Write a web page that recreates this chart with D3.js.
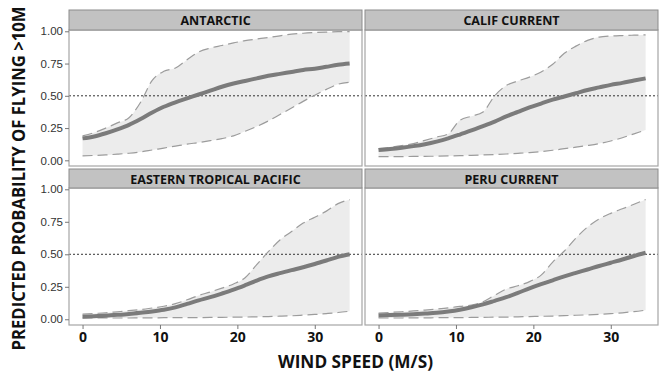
<!DOCTYPE html>
<html>
<head>
<meta charset="utf-8">
<script src="https://cdn.jsdelivr.net/npm/d3@7"></script>
<style>
  html, body { margin: 0; padding: 0; background: #fff; }
  svg { display: block; }
</style>
</head>
<body>
<svg id="chart" width="661" height="372"></svg>
<script>
// ---- data ----
const windSpeed = [0, 1.5, 3, 4.5, 6, 7.5, 9, 10.5, 12, 13.5, 15, 16.5, 18, 19.5, 21, 22.5, 24, 25.5, 27, 28.5, 30, 31.5, 33, 34.5];
const regions = ["ANTARCTIC", "CALIF CURRENT", "EASTERN TROPICAL PACIFIC", "PERU CURRENT"];

const antarcticMean  = [0.17, 0.185, 0.21, 0.24, 0.275, 0.32, 0.37, 0.415, 0.45, 0.48, 0.51, 0.54, 0.57, 0.595, 0.615, 0.635, 0.655, 0.67, 0.685, 0.70, 0.71, 0.725, 0.74, 0.75];
const antarcticUpper = [0.19, 0.215, 0.25, 0.29, 0.33, 0.45, 0.62, 0.69, 0.715, 0.78, 0.84, 0.87, 0.89, 0.91, 0.928, 0.94, 0.952, 0.965, 0.978, 0.985, 0.99, 0.994, 0.997, 0.998];
const antarcticLower = [0.035, 0.038, 0.042, 0.048, 0.055, 0.065, 0.08, 0.095, 0.11, 0.125, 0.138, 0.152, 0.168, 0.19, 0.225, 0.262, 0.305, 0.355, 0.405, 0.457, 0.505, 0.55, 0.59, 0.605];

const califMean  = [0.08, 0.088, 0.098, 0.11, 0.125, 0.145, 0.17, 0.20, 0.232, 0.265, 0.30, 0.34, 0.375, 0.41, 0.44, 0.47, 0.495, 0.52, 0.545, 0.565, 0.585, 0.60, 0.618, 0.635];
const califUpper = [0.09, 0.10, 0.115, 0.13, 0.155, 0.18, 0.205, 0.31, 0.342, 0.375, 0.50, 0.58, 0.615, 0.645, 0.685, 0.745, 0.83, 0.885, 0.93, 0.955, 0.963, 0.967, 0.97, 0.972];
const califLower = [0.028, 0.028, 0.029, 0.03, 0.031, 0.032, 0.034, 0.036, 0.039, 0.042, 0.045, 0.049, 0.054, 0.06, 0.068, 0.078, 0.09, 0.102, 0.115, 0.13, 0.15, 0.175, 0.205, 0.235];

const etpMean  = [0.02, 0.024, 0.028, 0.034, 0.041, 0.05, 0.06, 0.073, 0.092, 0.118, 0.145, 0.17, 0.198, 0.228, 0.262, 0.298, 0.33, 0.355, 0.378, 0.40, 0.425, 0.452, 0.48, 0.50];
const etpUpper = [0.04, 0.045, 0.05, 0.058, 0.066, 0.075, 0.087, 0.10, 0.12, 0.15, 0.183, 0.21, 0.24, 0.272, 0.32, 0.42, 0.52, 0.61, 0.675, 0.74, 0.785, 0.832, 0.89, 0.92];
const etpLower = [0.01, 0.01, 0.01, 0.01, 0.01, 0.011, 0.011, 0.012, 0.012, 0.013, 0.013, 0.014, 0.015, 0.016, 0.017, 0.019, 0.021, 0.024, 0.027, 0.032, 0.037, 0.044, 0.052, 0.062];

const peruMean  = [0.03, 0.032, 0.035, 0.039, 0.044, 0.05, 0.06, 0.074, 0.093, 0.115, 0.142, 0.17, 0.203, 0.238, 0.27, 0.30, 0.33, 0.357, 0.383, 0.41, 0.435, 0.46, 0.487, 0.512];
const peruUpper = [0.048, 0.053, 0.058, 0.064, 0.071, 0.079, 0.088, 0.099, 0.11, 0.135, 0.185, 0.232, 0.258, 0.29, 0.34, 0.44, 0.525, 0.625, 0.71, 0.772, 0.815, 0.85, 0.885, 0.922];
const peruLower = [0.01, 0.01, 0.01, 0.011, 0.011, 0.012, 0.012, 0.013, 0.014, 0.015, 0.016, 0.017, 0.019, 0.021, 0.023, 0.025, 0.028, 0.031, 0.034, 0.038, 0.043, 0.05, 0.059, 0.07];

const threshold = 0.5;
const yTicks = [0, 0.25, 0.5, 0.75, 1.0];
const xTicks = [0, 10, 20, 30];
const yTitle = "PREDICTED PROBABILITY OF FLYING >10M";
const xTitle = "WIND SPEED (M/S)";

const panelData = [
  {name: regions[0], mean: antarcticMean, upper: antarcticUpper, lower: antarcticLower},
  {name: regions[1], mean: califMean, upper: califUpper, lower: califLower},
  {name: regions[2], mean: etpMean, upper: etpUpper, lower: etpLower},
  {name: regions[3], mean: peruMean, upper: peruUpper, lower: peruLower}
];

// ---- layout ----
const cols = [[69, 362], [365, 658]];
const rows = [{strip: [10, 30], panel: [30, 166]}, {strip: [169, 188], panel: [188, 325]}];

const svg = d3.select("#chart");
const fontBold = "'Open Sans', 'DejaVu Sans', sans-serif";

panelData.forEach((p, i) => {
  const c = cols[i % 2], r = rows[Math.floor(i / 2)];
  const x = d3.scaleLinear().domain([-1.75, 36.1]).range(c);
  const y = d3.scaleLinear().domain([-0.044, 1.01]).range([r.panel[1], r.panel[0]]);
  const g = svg.append("g");

  g.append("rect").attr("x", c[0]).attr("y", r.panel[0])
    .attr("width", c[1] - c[0]).attr("height", r.panel[1] - r.panel[0])
    .attr("fill", "#fff");

  const pts = windSpeed.map((w, k) => ({w, m: p.mean[k], u: p.upper[k], l: p.lower[k]}));

  g.append("path").datum(pts)
    .attr("fill", "#ececec")
    .attr("d", d3.area().x(d => x(d.w)).y0(d => y(d.l)).y1(d => y(d.u)).curve(d3.curveMonotoneX));

  g.append("line").attr("x1", c[0]).attr("x2", c[1])
    .attr("y1", y(threshold)).attr("y2", y(threshold))
    .attr("stroke", "#333").attr("stroke-width", 1).attr("stroke-dasharray", "2,2");

  ["u", "l"].forEach(key => {
    g.append("path").datum(pts)
      .attr("fill", "none").attr("stroke", "#9c9c9c").attr("stroke-width", 1.2)
      .attr("stroke-dasharray", "10,5")
      .attr("d", d3.line().x(d => x(d.w)).y(d => y(d[key])).curve(d3.curveMonotoneX));
  });

  g.append("path").datum(pts)
    .attr("fill", "none").attr("stroke", "#7b7b7b").attr("stroke-width", 4)
    .attr("d", d3.line().x(d => x(d.w)).y(d => y(d.m)).curve(d3.curveMonotoneX));

  g.append("rect").attr("x", c[0]).attr("y", r.panel[0])
    .attr("width", c[1] - c[0]).attr("height", r.panel[1] - r.panel[0])
    .attr("fill", "none").attr("stroke", "#a6a6a6").attr("stroke-width", 1.2);

  g.append("rect").attr("x", c[0]).attr("y", r.strip[0])
    .attr("width", c[1] - c[0]).attr("height", r.strip[1] - r.strip[0])
    .attr("fill", "#c2c2c2").attr("stroke", "#8c8c8c").attr("stroke-width", 1);
  g.append("text").attr("x", (c[0] + c[1]) / 2).attr("y", r.strip[0] + 14.5)
    .attr("text-anchor", "middle").attr("font-family", fontBold)
    .attr("font-weight", "bold").attr("font-size", 12.5).attr("fill", "#111")
    .text(p.name);

  if (i % 2 === 0) {
    const ax = g.append("g").attr("transform", `translate(${c[0]},0)`)
      .call(d3.axisLeft(y).tickValues(yTicks).tickFormat(d3.format(".2f")).tickSize(4).tickPadding(2));
    ax.select(".domain").remove();
    ax.selectAll(".tick line").attr("stroke", "#777");
    ax.selectAll(".tick text").attr("font-family", "'Liberation Sans', Arial, sans-serif")
      .attr("font-size", 11.5).attr("fill", "#333");
  }
  if (i >= 2) {
    const ax = g.append("g").attr("transform", `translate(0,${r.panel[1]})`)
      .call(d3.axisBottom(x).tickValues(xTicks).tickFormat(d3.format("d")).tickSize(4).tickPadding(3));
    ax.select(".domain").remove();
    ax.selectAll(".tick line").attr("stroke", "#777");
    ax.selectAll(".tick text").attr("font-family", fontBold).attr("font-weight", "bold")
      .attr("font-size", 14).attr("fill", "#111");
  }
});

svg.append("text").attr("x", 355.5).attr("y", 368)
  .attr("text-anchor", "middle").attr("font-family", fontBold).attr("font-weight", "bold")
  .attr("font-size", 17.5).attr("fill", "#111")
  .attr("textLength", 155).attr("lengthAdjust", "spacingAndGlyphs")
  .text(xTitle);
svg.append("text").attr("transform", "translate(25,178.5) rotate(-90)")
  .attr("text-anchor", "middle").attr("font-family", fontBold).attr("font-weight", "bold")
  .attr("font-size", 17).attr("fill", "#111")
  .attr("textLength", 344).attr("lengthAdjust", "spacingAndGlyphs")
  .text(yTitle);
</script>
</body>
</html>
